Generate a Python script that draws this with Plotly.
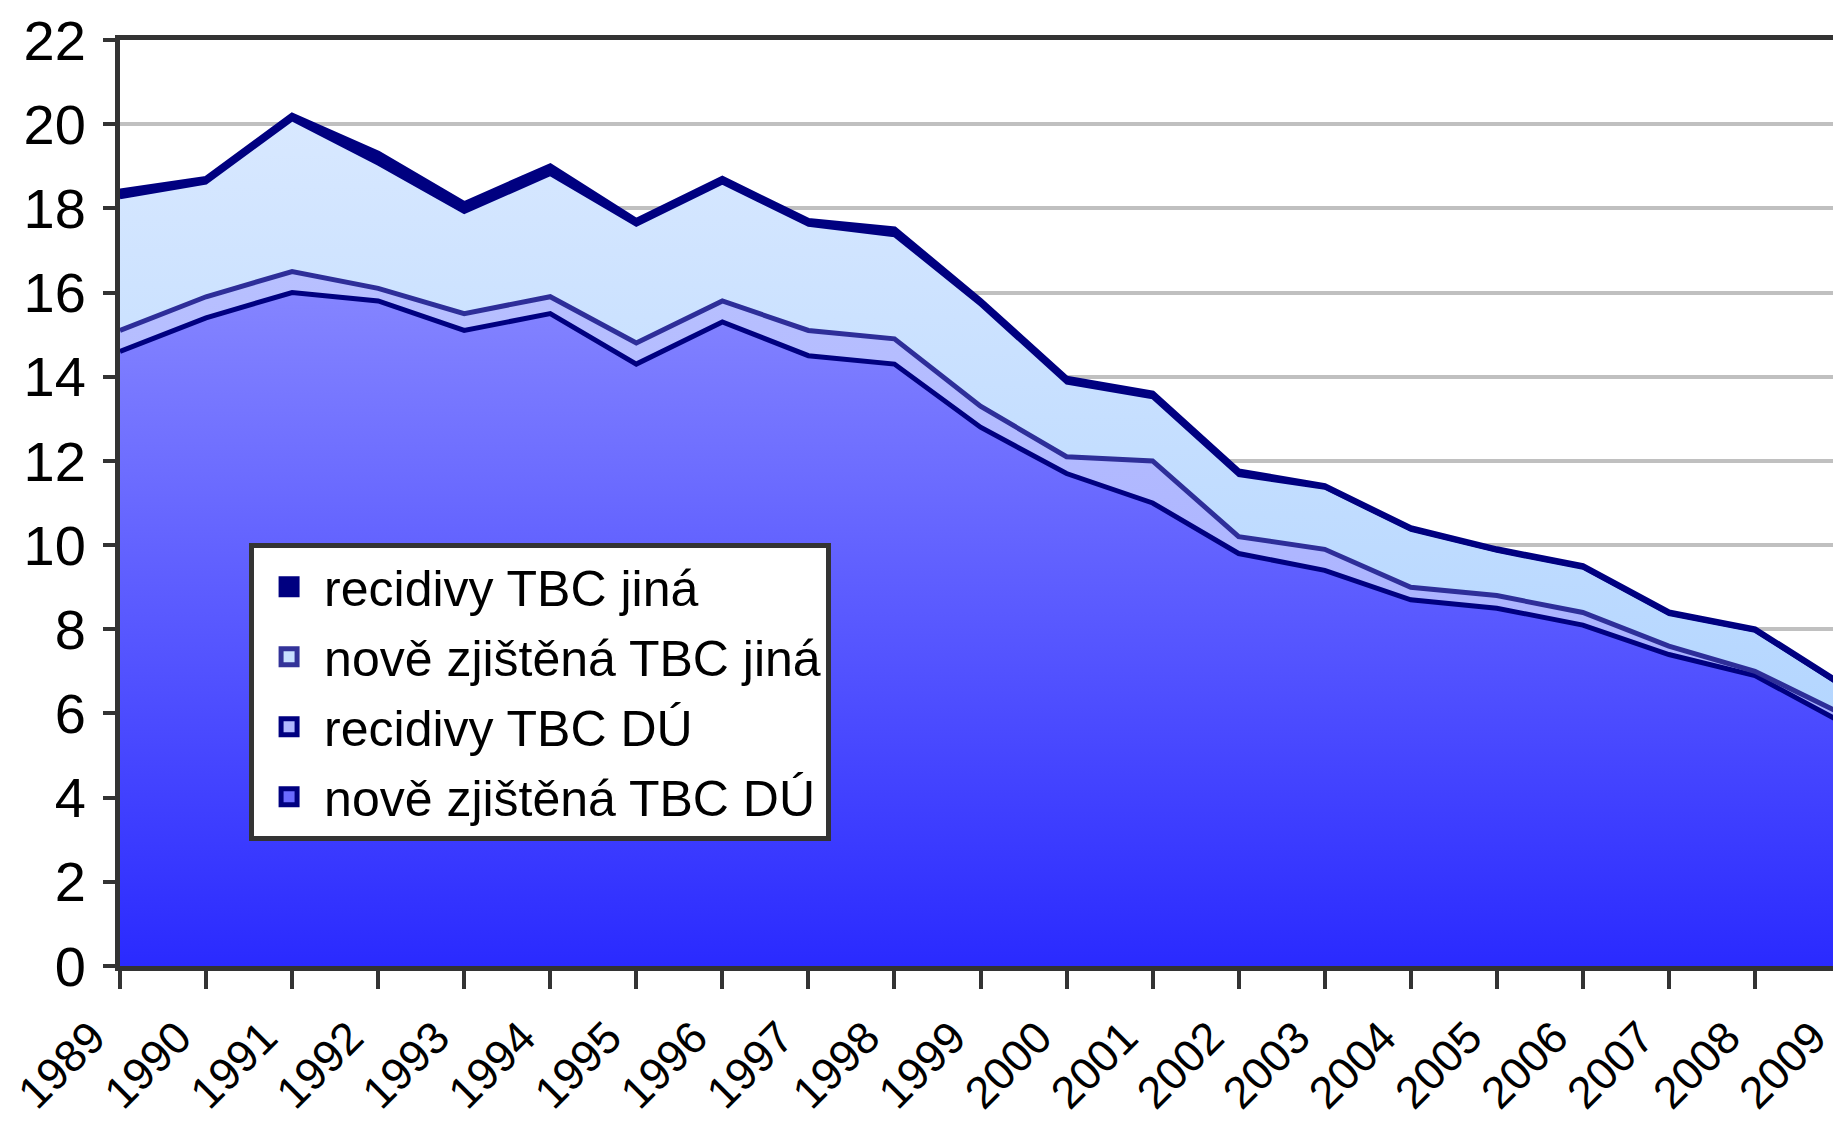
from plotly import graph_objects as go

years = [str(y) for y in range(1989, 2010)]

# values per year (stacked from bottom)
nove_du = [14.6, 15.4, 16.0, 15.8, 15.1, 15.5, 14.3, 15.3, 14.5, 14.3, 12.8,
           11.7, 11.0, 9.8, 9.4, 8.7, 8.5, 8.1, 7.4, 6.9, 5.8]
recid_du = [0.5, 0.5, 0.5, 0.3, 0.4, 0.4, 0.5, 0.5, 0.6, 0.6, 0.5,
            0.4, 1.0, 0.4, 0.5, 0.3, 0.3, 0.3, 0.2, 0.1, 0.2]
nove_jina = [3.15, 2.7, 3.6, 2.95, 2.4, 2.9, 2.8, 2.8, 2.5, 2.45, 2.4,
             1.75, 1.5, 1.45, 1.45, 1.35, 1.05, 1.05, 0.75, 0.95, 0.65]
recid_jina = [0.15, 0.1, 0.1, 0.25, 0.2, 0.2, 0.1, 0.1, 0.1, 0.15, 0.1,
              0.1, 0.1, 0.1, 0.05, 0.05, 0.05, 0.05, 0.05, 0.05, 0.05]

y_ticks = list(range(0, 23, 2))

FONT = 'Liberation Sans, Arial, sans-serif'

series = [
    ('nově zjištěná TBC DÚ', nove_du, '#000080', 5,
     [[0, '#2a2aff'], [1, '#8585ff']], '#6a6aff', '#000080'),
    ('recidivy TBC DÚ', recid_du, '#2e2e99', 5,
     [[0, '#a8b0ff'], [1, '#b8c0ff']], '#b0b8ff', '#000080'),
    ('nově zjištěná TBC jiná', nove_jina, '#000080', 3,
     [[0, '#b4d6ff'], [1, '#d8e8ff']], '#c8e0ff', '#333399'),
    ('recidivy TBC jiná', recid_jina, '#000080', 6,
     [[0, '#000080'], [1, '#000080']], '#000080', '#000080'),
]

fig = go.Figure()
for name, vals, lc, lw, scale, fc, edge in series:
    fig.add_trace(go.Scatter(
        x=years, y=vals, name=name, mode='lines',
        stackgroup='one', showlegend=False,
        line=dict(color=lc, width=lw),
        fillcolor=fc,
        fillgradient=dict(type='vertical', colorscale=scale),
    ))

# legend entries as square swatches, top series first
for i, (name, vals, lc, lw, scale, fc, edge) in enumerate(reversed(series)):
    fig.add_trace(go.Scatter(
        x=[None], y=[None], name=name, mode='markers',
        legendgroup=f'g{i}',
        marker=dict(symbol='square', size=16, color=fc,
                    line=dict(color=edge, width=6)),
    ))

fig.update_layout(
    width=1841, height=1124,
    margin=dict(l=112, r=8, t=32, b=166, autoexpand=False),
    paper_bgcolor='white', plot_bgcolor='white',
    font=dict(family=FONT, size=48, color='black'),
    showlegend=True,
    legend=dict(
        x=0.075, y=0.457, xanchor='left', yanchor='top',
        bgcolor='white', bordercolor='#333333', borderwidth=5,
        traceorder='grouped', font=dict(size=50, family=FONT),
        itemwidth=60, tracegroupgap=2,
    ),
)

fig.update_xaxes(
    type='category', range=[0, len(years) - 1], automargin=False,
    showgrid=False, showline=True, linecolor='#333333', linewidth=5,
    mirror=True, ticks='outside', ticklen=18, tickwidth=4, tickcolor='#333333',
    tickangle=-45, tickfont=dict(size=45, family=FONT),
    ticklabelstandoff=4, ticklabelshift=-28,
)
fig.update_yaxes(
    range=[0, 22], tickvals=y_ticks, automargin=False,
    showgrid=True, gridcolor='#c0c0c0', gridwidth=4,
    showline=True, linecolor='#333333', linewidth=5, mirror=True,
    ticks='outside', ticklen=12, tickwidth=4, tickcolor='#333333',
    tickfont=dict(size=56, family=FONT), zeroline=False,
    ticklabelstandoff=6,
)

fig.write_html("out.html")
